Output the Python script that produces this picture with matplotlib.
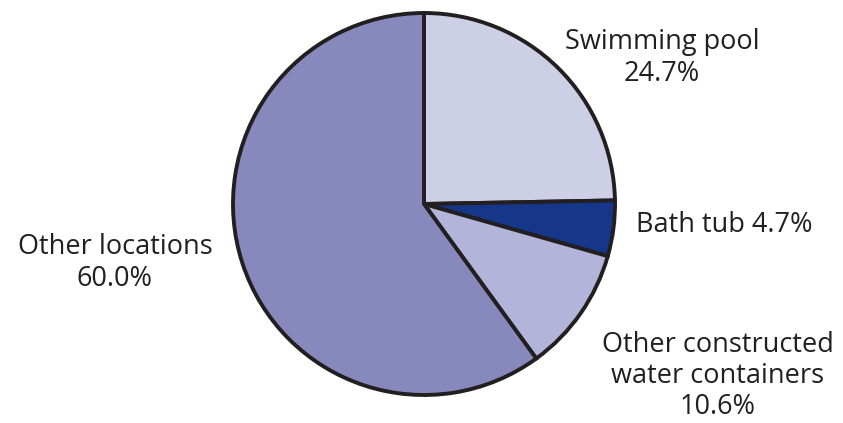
import matplotlib
matplotlib.use("Agg")
import matplotlib.pyplot as plt

categories = ["Swimming pool", "Bath tub", "Other constructed water containers", "Other locations"]
values = [24.7, 4.7, 10.6, 60.0]
labels = ["Swimming pool\n24.7%", "Bath tub 4.7%", "Other constructed\nwater containers\n10.6%", "Other locations\n60.0%"]
colors = ["#CDCFE6", "#16368A", "#B2B5D9", "#8789BD"]

W, H = 843, 423
fig = plt.figure(figsize=(W / 100, H / 100), dpi=100)
ax = fig.add_axes([0, 0, 1, 1])

cx, cy, r = 424, H - 204, 191
ax.pie(values, colors=colors, startangle=90, counterclock=False,
       center=(cx, cy), radius=r, frame=True,
       wedgeprops=dict(edgecolor="#231F20", linewidth=2.8))
ax.set_xlim(0, W)
ax.set_ylim(0, H)
ax.set_aspect("equal")
ax.axis("off")

font = dict(family=["Open Sans", "DejaVu Sans"], fontsize=19.5, color="#231F20", linespacing=1.15)
ax.text(662, H - 58, labels[0], ha="center", va="center", **font)
ax.text(636, H - 225, labels[1], ha="left", va="center", **font)
ax.text(718, H - 376, labels[2], ha="center", va="center", **font)
ax.text(115, H - 263, labels[3], ha="center", va="center", **font)

fig.savefig("out.png", dpi=100)
